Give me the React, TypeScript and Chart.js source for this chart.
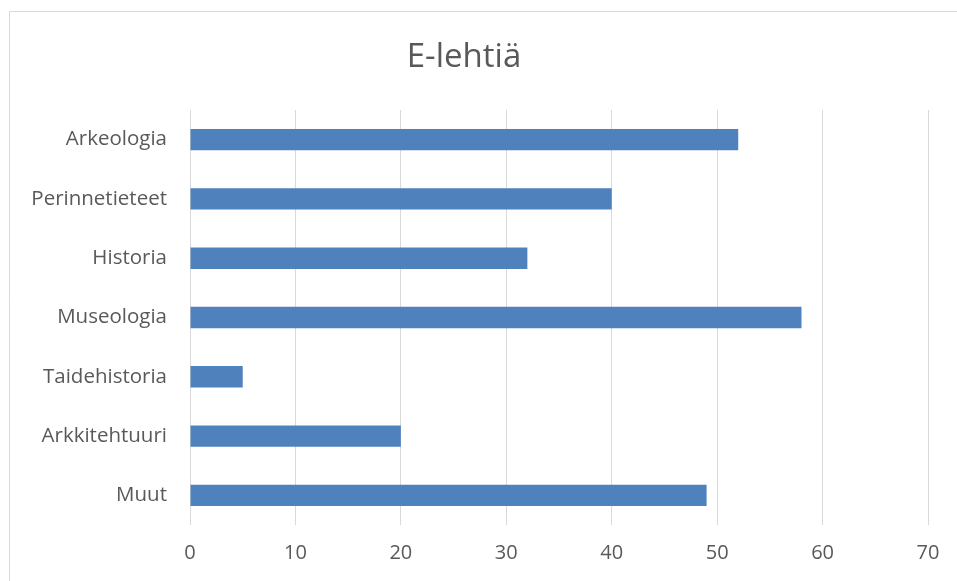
import React, { useEffect, useRef } from "react";
import { Chart, registerables } from "chart.js";

Chart.register(...registerables);

const categories = ["Arkeologia", "Perinnetieteet", "Historia", "Museologia", "Taidehistoria", "Arkkitehtuuri", "Muut"];
const values = [52, 40, 32, 58, 5, 20, 49];
const xTicks = [0, 10, 20, 30, 40, 50, 60, 70];
const titleText = "E-lehtiä";

const FONT = "'Open Sans', Lato, sans-serif";

const borderPlugin = {
  id: "outerBorder",
  beforeDraw(chart: any) {
    const ctx = chart.ctx;
    ctx.save();
    ctx.fillStyle = "#ffffff";
    ctx.fillRect(0, 0, chart.width, chart.height);
    ctx.strokeStyle = "#d9d9d9";
    ctx.lineWidth = 1;
    ctx.beginPath();
    ctx.moveTo(9.5, chart.height + 5);
    ctx.lineTo(9.5, 11.5);
    ctx.lineTo(chart.width + 5, 11.5);
    ctx.stroke();
    ctx.restore();
  },
};

export default function App() {
  const ref = useRef<HTMLCanvasElement | null>(null);
  useEffect(() => {
    if (!ref.current) return;
    const chart = new Chart(ref.current, {
      type: "bar",
      data: {
        labels: categories,
        datasets: [
          {
            data: values,
            backgroundColor: "#4f81bd",
            borderWidth: 0,
            categoryPercentage: 1,
            barPercentage: 0.36,
          },
        ],
      },
      options: {
        indexAxis: "y",
        animation: false,
        responsive: true,
        maintainAspectRatio: false,
        layout: { padding: { left: 0, right: 29, top: 0, bottom: 0 } },
        plugins: {
          legend: { display: false },
          tooltip: { enabled: false },
          title: {
            display: true,
            text: titleText,
            color: "#595959",
            font: { family: FONT, size: 33, weight: "normal" },
            padding: { top: 38, bottom: 32.4 },
          },
        },
        scales: {
          x: {
            min: 0,
            max: 70,
            afterBuildTicks: (scale: any) => {
              scale.ticks = xTicks.map((v) => ({ value: v }));
            },
            afterFit: (scale: any) => {
              scale.height = 56;
            },
            grid: { color: "#d9d9d9", lineWidth: 1, drawTicks: false },
            border: { display: false },
            ticks: {
              color: "#595959",
              font: { family: FONT, size: 20 },
              padding: 16,
            },
          },
          y: {
            afterFit: (scale: any) => {
              scale.width = 190;
            },
            grid: { display: false, drawTicks: false },
            border: { display: false },
            ticks: {
              color: "#595959",
              font: { family: FONT, size: 20.5 },
              padding: 23,
            },
          },
        },
      },
      plugins: [borderPlugin],
    });
    return () => chart.destroy();
  }, []);
  return (
    <div style={{ position: "fixed", left: 0, top: 0, width: 957, height: 581, background: "#fff" }}>
      <canvas ref={ref} />
    </div>
  );
}
